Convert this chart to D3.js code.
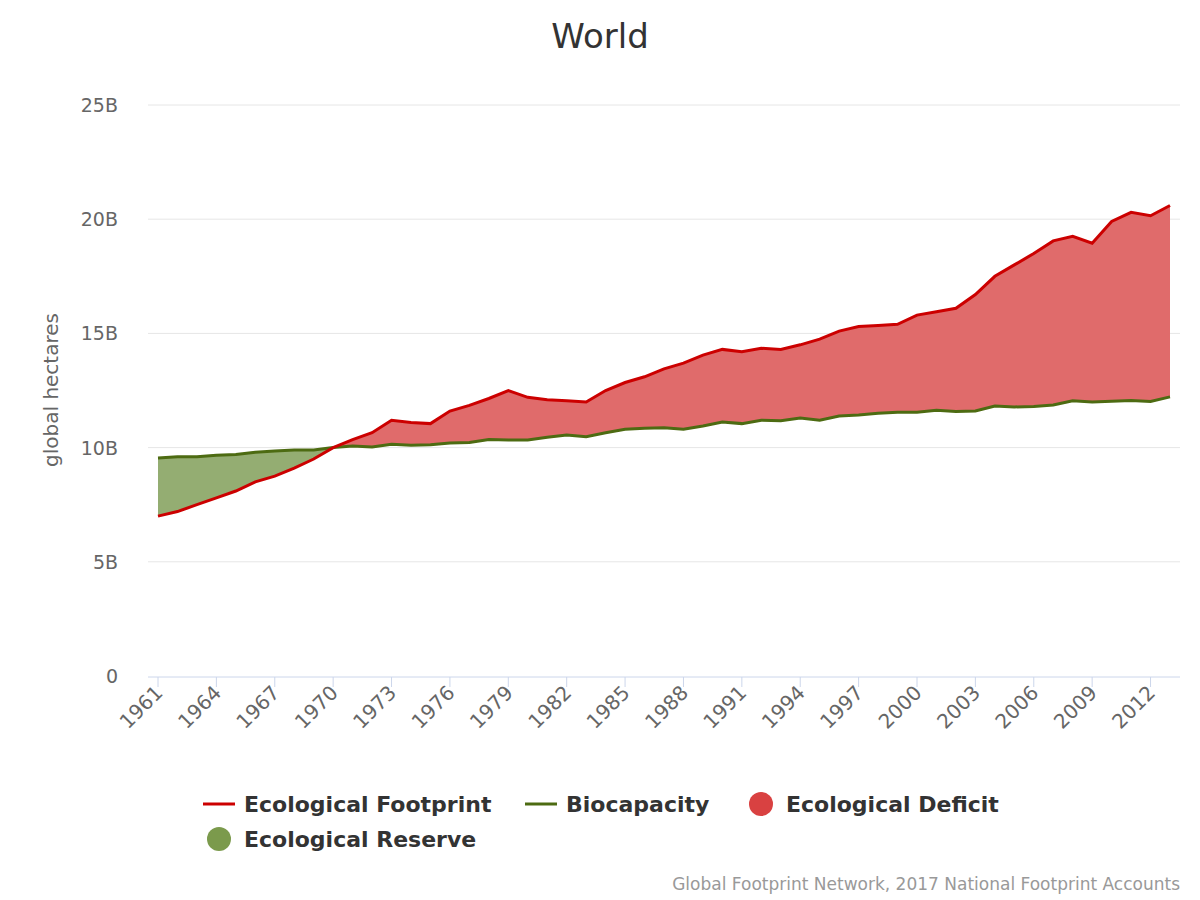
<!DOCTYPE html>
<html><head><meta charset="utf-8">
<script src="https://cdn.jsdelivr.net/npm/d3@7"></script>
<style>body{margin:0;background:#fff;font-family:"DejaVu Sans",sans-serif;}</style>
</head><body>
<svg id="chart" width="1200" height="900"></svg>
<script>
// years 1961..2013
var years = d3.range(1961, 2014);
var footprint = [7.0,7.2,7.5,7.8,8.1,8.5,8.75,9.1,9.5,10.0,10.35,10.65,11.2,11.1,11.05,11.6,11.85,12.15,12.5,12.2,12.1,12.05,12.0,12.5,12.85,13.1,13.45,13.7,14.05,14.3,14.2,14.35,14.3,14.5,14.75,15.1,15.3,15.35,15.4,15.8,15.95,16.1,16.7,17.5,18.0,18.5,19.05,19.25,18.95,19.9,20.3,20.15,20.6];
var biocapacity = [9.55,9.6,9.6,9.67,9.7,9.8,9.85,9.9,9.9,10.0,10.07,10.03,10.15,10.1,10.12,10.2,10.22,10.35,10.33,10.33,10.45,10.55,10.48,10.65,10.8,10.85,10.87,10.8,10.95,11.12,11.05,11.2,11.18,11.3,11.2,11.38,11.43,11.5,11.55,11.55,11.63,11.58,11.6,11.82,11.78,11.8,11.87,12.05,12.0,12.03,12.06,12.02,12.22];
var yTicks = [0,5,10,15,20,25];
var xTicks = d3.range(1961, 2014, 3);

var svg = d3.select("#chart");
var x = d3.scaleLinear().domain([1961, 2013]).range([158, 1170]);
var y = d3.scaleLinear().domain([0, 25]).range([676, 105]);

var data = years.map(function(yr, i) { return {yr: yr, fp: footprint[i], bc: biocapacity[i]}; });

// gridlines
svg.selectAll(".grid").data(yTicks.slice(1)).enter().append("line")
  .attr("x1", 148).attr("x2", 1180)
  .attr("y1", function(d) { return y(d); }).attr("y2", function(d) { return y(d); })
  .attr("stroke", "#e6e6e6");
svg.selectAll(".yl").data(yTicks).enter().append("text")
  .attr("x", 118).attr("y", function(d) { return y(d) + 7; })
  .attr("text-anchor", "end").attr("font-size", 19).attr("fill", "#666")
  .text(function(d) { return d === 0 ? "0" : d + "B"; });

// areas
svg.append("path").datum(data)
  .attr("fill", "#e06b6b")
  .attr("d", d3.area().x(function(d) { return x(d.yr); })
    .y0(function(d) { return y(d.bc); }).y1(function(d) { return y(Math.max(d.fp, d.bc)); }));
svg.append("path").datum(data)
  .attr("fill", "#94ad72")
  .attr("d", d3.area().x(function(d) { return x(d.yr); })
    .y0(function(d) { return y(d.fp); }).y1(function(d) { return y(Math.max(d.fp, d.bc)); }));

// lines
svg.append("path").datum(data).attr("fill", "none").attr("stroke", "#4d6b12").attr("stroke-width", 3)
  .attr("d", d3.line().x(function(d) { return x(d.yr); }).y(function(d) { return y(d.bc); }));
svg.append("path").datum(data).attr("fill", "none").attr("stroke", "#cc0000").attr("stroke-width", 3)
  .attr("d", d3.line().x(function(d) { return x(d.yr); }).y(function(d) { return y(d.fp); }));

// x axis
svg.append("line").attr("x1", 148).attr("x2", 1180).attr("y1", 677).attr("y2", 677).attr("stroke", "#ccd6eb");
svg.selectAll(".xt").data(xTicks).enter().append("line")
  .attr("x1", function(d) { return x(d); }).attr("x2", function(d) { return x(d); })
  .attr("y1", 677).attr("y2", 687).attr("stroke", "#ccd6eb");
svg.selectAll(".xl").data(xTicks).enter().append("text")
  .attr("transform", function(d) { return "translate(" + (x(d) + 6) + ",694) rotate(-45)"; })
  .attr("text-anchor", "end").attr("font-size", 20).attr("fill", "#666")
  .text(function(d) { return d; });

// titles
svg.append("text").attr("x", 600).attr("y", 48).attr("text-anchor", "middle")
  .attr("font-size", 34).attr("fill", "#333").text("World");
svg.append("text").attr("transform", "translate(58,390) rotate(-90)").attr("text-anchor", "middle")
  .attr("font-size", 20).attr("fill", "#666").text("global hectares");

// legend
var leg = [
  {t: "Ecological Footprint", x: 203, y: 804, type: "line", c: "#cc0000"},
  {t: "Biocapacity", x: 525, y: 804, type: "line", c: "#4d6b12"},
  {t: "Ecological Deficit", x: 745, y: 804, type: "dot", c: "#d94141"},
  {t: "Ecological Reserve", x: 203, y: 839, type: "dot", c: "#7b9a4c"}
];
leg.forEach(function(l) {
  if (l.type === "line") {
    svg.append("line").attr("x1", l.x).attr("x2", l.x + 32).attr("y1", l.y).attr("y2", l.y)
      .attr("stroke", l.c).attr("stroke-width", 3);
  } else {
    svg.append("circle").attr("cx", l.x + 16).attr("cy", l.y).attr("r", 12).attr("fill", l.c);
  }
  svg.append("text").attr("x", l.x + 41).attr("y", l.y + 8).attr("font-size", 22)
    .attr("font-weight", "bold").attr("fill", "#333").text(l.t);
});

svg.append("text").attr("x", 1180).attr("y", 890).attr("text-anchor", "end")
  .attr("font-size", 17).attr("fill", "#999").text("Global Footprint Network, 2017 National Footprint Accounts");
</script>
</body></html>
